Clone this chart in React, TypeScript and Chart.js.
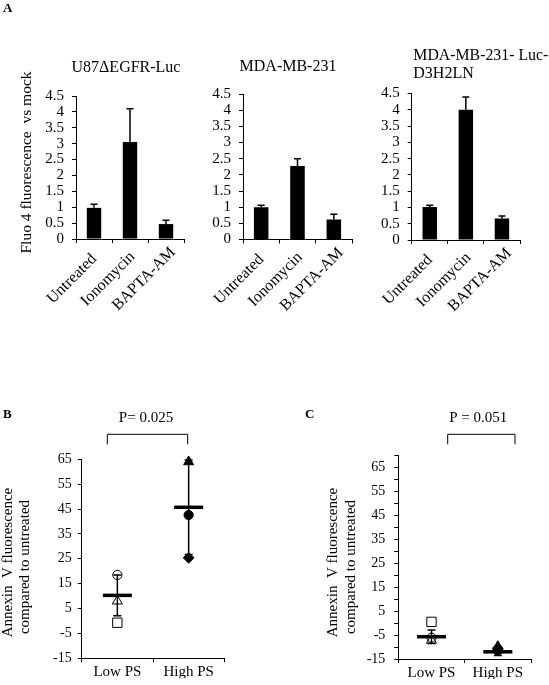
import React, { useEffect, useRef } from 'react';
import { Chart, registerables } from 'chart.js';
Chart.register(...registerables);

// ---------- data ----------
const treatments = ['Untreated', 'Ionomycin', 'BAPTA-AM'];
const u87Values = [0.98, 3.05, 0.47];
const u87Errors = [0.11, 1.05, 0.12];
const mdaValues = [1.0, 2.27, 0.62];
const mdaErrors = [0.06, 0.23, 0.16];
const d3h2lnValues = [1.01, 4.0, 0.66];
const d3h2lnErrors = [0.06, 0.39, 0.08];
const fluoTicks = [0, 0.5, 1, 1.5, 2, 2.5, 3, 3.5, 4, 4.5];

const psGroups = ['Low PS', 'High PS'];
// replicates: circle, triangle, square (low) / diamond (high)
const bCircle = [18.5, 42.6];
const bTriangle = [8.0, 64.0];
const bSquareDiamond = [-0.7, 25.4];
const bMeans = [10.3, 45.7];
const bSD = [8.2, 19.0];
const bTicks = [-15, -5, 5, 15, 25, 35, 45, 55, 65];

const cCircle = [-6.1, -11.5];
const cTriangle = [-7.2, -9.8];
const cSquareDiamond = [0.5, -10.5];
const cMeans = [-5.7, -12.0];
const cSD = [2.8, 1.5];
const cTickMarks = [-15, -10, -5, 0, 5, 10, 15, 20, 25, 30, 35, 40, 45, 50, 55, 60, 65, 70];
const cTickLabels = [-15, -5, 5, 15, 25, 35, 45, 55, 65];

// ---------- helpers ----------
const W = 549;
const H = 685;
const FONT = "'Liberation Serif', 'Times New Roman', serif";

type TextItem = {
  text: string; x: number; y: number; size: number; bold?: boolean;
  align?: CanvasTextAlign; baseline?: CanvasTextBaseline; rotate?: boolean; maxWidth?: number;
};
type Seg = [number, number, number, number];

function overlayPlugin(texts: TextItem[], segs: Seg[]) {
  return {
    id: 'overlay',
    afterDraw(chart: any) {
      const ctx = chart.ctx as CanvasRenderingContext2D;
      ctx.save();
      ctx.fillStyle = '#000';
      ctx.strokeStyle = '#000';
      ctx.lineWidth = 1;
      for (const t of texts) {
        ctx.save();
        ctx.font = `${t.bold ? 'bold ' : ''}${t.size}px ${FONT}`;
        ctx.textAlign = t.align || 'center';
        ctx.textBaseline = t.baseline || 'alphabetic';
        ctx.translate(t.x, t.y);
        if (t.rotate) ctx.rotate(-Math.PI / 2);
        if (t.maxWidth) ctx.fillText(t.text, 0, 0, t.maxWidth);
        else ctx.fillText(t.text, 0, 0);
        ctx.restore();
      }
      for (const s of segs) {
        ctx.beginPath();
        ctx.moveTo(s[0], s[1]);
        ctx.lineTo(s[2], s[3]);
        ctx.stroke();
      }
      ctx.restore();
    },
  };
}

// rotated category labels, centred a little left of and below each category
const slantedLabelsPlugin = {
  id: 'slantedLabels',
  afterDraw(chart: any) {
    const ctx = chart.ctx as CanvasRenderingContext2D;
    const xs = chart.scales.x;
    const labels: string[] = chart.data.labels;
    ctx.save();
    ctx.fillStyle = '#000';
    ctx.font = `16px ${FONT}`;
    ctx.textAlign = 'center';
    ctx.textBaseline = 'middle';
    labels.forEach((lab, i) => {
      const cx = xs.getPixelForValue(i) - 22;
      const cy = xs.top + 40;
      ctx.save();
      ctx.translate(cx, cy);
      ctx.rotate(-Math.PI / 4);
      ctx.fillText(lab, 0, 0);
      ctx.restore();
    });
    ctx.restore();
  },
};

function barErrorPlugin(values: number[], errors: number[]) {
  return {
    id: 'barErrors',
    afterDatasetsDraw(chart: any) {
      const ctx = chart.ctx as CanvasRenderingContext2D;
      const meta = chart.getDatasetMeta(0);
      const y = chart.scales.y;
      ctx.save();
      ctx.strokeStyle = '#000';
      ctx.lineWidth = 1.5;
      meta.data.forEach((bar: any, i: number) => {
        const x = bar.x;
        const y0 = y.getPixelForValue(values[i]);
        const y1 = y.getPixelForValue(values[i] + errors[i]);
        ctx.beginPath();
        ctx.moveTo(x, y0);
        ctx.lineTo(x, y1);
        ctx.moveTo(x - 3.5, y1);
        ctx.lineTo(x + 3.5, y1);
        ctx.stroke();
      });
      ctx.restore();
    },
  };
}

function sdPlugin(means: number[], sds: number[], meanIndex: number) {
  return {
    id: 'sdBars',
    afterDatasetsDraw(chart: any) {
      const ctx = chart.ctx as CanvasRenderingContext2D;
      const meta = chart.getDatasetMeta(meanIndex);
      const y = chart.scales.y;
      ctx.save();
      ctx.strokeStyle = '#000';
      ctx.lineWidth = 1.5;
      meta.data.forEach((pt: any, i: number) => {
        const x = pt.x;
        const yt = y.getPixelForValue(means[i] + sds[i]);
        const yb = y.getPixelForValue(means[i] - sds[i]);
        ctx.beginPath();
        ctx.moveTo(x, yt);
        ctx.lineTo(x, yb);
        ctx.moveTo(x - 4, yt);
        ctx.lineTo(x + 4, yt);
        ctx.moveTo(x - 4, yb);
        ctx.lineTo(x + 4, yb);
        ctx.stroke();
      });
      ctx.restore();
    },
  };
}

type Area = { left: number; right: number; top: number; bottom: number };
const Y_W = 50;

function barConfig(values: number[], errors: number[], area: Area, texts: TextItem[]) {
  const xh = 90;
  return {
    type: 'bar',
    data: {
      labels: treatments,
      datasets: [{ data: values, backgroundColor: '#000', borderWidth: 0, barPercentage: 0.4, categoryPercentage: 1 }],
    },
    options: {
      responsive: false,
      animation: false,
      events: [],
      layout: { padding: { left: area.left - Y_W, right: W - area.right, top: area.top, bottom: H - area.bottom - xh } },
      plugins: { legend: { display: false }, tooltip: { enabled: false } },
      scales: {
        x: {
          offset: true,
          grid: { display: true, drawOnChartArea: false, drawTicks: true, tickLength: 4, color: '#000', tickColor: '#000', offset: true },
          border: { display: true, color: '#000', width: 1 },
          ticks: { display: false, autoSkip: false },
          afterFit: (s: any) => { s.height = xh; s.paddingLeft = 0; s.paddingRight = 0; },
        },
        y: {
          min: 0,
          max: 4.5,
          afterBuildTicks: (s: any) => { s.ticks = fluoTicks.map((v) => ({ value: v })); },
          grid: { display: true, drawOnChartArea: false, drawTicks: true, tickLength: 4, color: '#000', tickColor: '#000' },
          border: { display: true, color: '#000', width: 1 },
          ticks: {
            color: '#000', font: { family: FONT, size: 15 }, padding: 8, autoSkip: false,
            callback: (v: number) => String(v),
          },
          afterFit: (s: any) => { s.width = Y_W; s.paddingTop = 0; s.paddingBottom = 0; },
        },
      },
    },
    plugins: [barErrorPlugin(values, errors), slantedLabelsPlugin, overlayPlugin(texts, [])],
  };
}

function scatterConfig(
  circle: number[], triangle: number[], sqd: number[], means: number[], sds: number[],
  area: Area, yMin: number, yMax: number, tickVals: number[], labelVals: number[], texts: TextItem[], segs: Seg[], tickPad: number,
) {
  const xh = 20;
  const open = 'rgba(0,0,0,0)';
  const base = { showLine: false, clip: false, pointBorderColor: '#000', pointBorderWidth: 1, pointBackgroundColor: [open, '#000'] };
  return {
    type: 'line',
    data: {
      labels: psGroups,
      datasets: [
        { ...base, data: circle, pointStyle: 'circle', pointRadius: 4.6 },
        { ...base, data: triangle, pointStyle: 'triangle', pointRadius: 5.8 },
        { ...base, data: sqd, pointStyle: ['rect', 'rectRot'], pointRadius: [6.6, 5.4] },
        { showLine: false, clip: false, data: means, pointStyle: 'line', pointRadius: 14.5, pointBorderWidth: 3.5, pointBorderColor: '#000', pointBackgroundColor: '#000' },
      ],
    },
    options: {
      responsive: false,
      animation: false,
      events: [],
      layout: { padding: { left: area.left - Y_W, right: W - area.right, top: area.top, bottom: H - area.bottom - xh } },
      plugins: { legend: { display: false }, tooltip: { enabled: false } },
      scales: {
        x: {
          type: 'category',
          offset: true,
          grid: { display: true, drawOnChartArea: false, drawTicks: true, tickLength: 4, color: '#000', tickColor: '#000', offset: true },
          border: { display: true, color: '#000', width: 1 },
          ticks: { color: '#000', font: { family: FONT, size: 15 }, minRotation: 0, maxRotation: 0, padding: 1, autoSkip: false },
          afterFit: (s: any) => { s.height = xh; s.paddingLeft = 0; s.paddingRight = 0; },
        },
        y: {
          min: yMin,
          max: yMax,
          afterBuildTicks: (s: any) => { s.ticks = tickVals.map((v) => ({ value: v })); },
          grid: { display: true, drawOnChartArea: false, drawTicks: true, tickLength: 4, color: '#000', tickColor: '#000' },
          border: { display: true, color: '#000', width: 1 },
          ticks: {
            color: '#000', font: { family: FONT, size: 14 }, padding: tickPad, autoSkip: false,
            callback: (v: number) => (labelVals.includes(v) ? String(v) : ''),
          },
          afterFit: (s: any) => { s.width = Y_W; s.paddingTop = 0; s.paddingBottom = 0; },
        },
      },
    },
    plugins: [sdPlugin(means, sds, 3), overlayPlugin(texts, segs)],
  };
}

// ---------- configs ----------
const makeA1 = () => barConfig(u87Values, u87Errors, { left: 76, right: 184, top: 96, bottom: 239 }, [
  { text: 'A', x: 3, y: 12, size: 13, bold: true, align: 'left' },
  { text: 'U87ΔEGFR-Luc', x: 126, y: 72, size: 16 },
  { text: 'Fluo 4 fluorescence  vs mock', x: 27, y: 162.5, size: 15.5, rotate: true, baseline: 'middle' },
]);
const makeA2 = () => barConfig(mdaValues, mdaErrors, { left: 243, right: 352, top: 94, bottom: 239.5 }, [
  { text: 'MDA-MB-231', x: 288, y: 71, size: 16 },
]);
const makeA3 = () => barConfig(d3h2lnValues, d3h2lnErrors, { left: 411.7, right: 520, top: 93.5, bottom: 240 }, [
  { text: 'MDA-MB-231- Luc-', x: 413.3, y: 60, size: 16, align: 'left', maxWidth: 135 },
  { text: 'D3H2LN', x: 413.3, y: 78.3, size: 16, align: 'left' },
]);
const makeB = () => scatterConfig(bCircle, bTriangle, bSquareDiamond, bMeans, bSD,
  { left: 81.7, right: 224.3, top: 459.3, bottom: 658.3 }, -15, 65, bTicks, bTicks, [
    { text: 'B', x: 3, y: 418, size: 13, bold: true, align: 'left' },
    { text: 'P= 0.025', x: 146, y: 421.7, size: 15 },
    { text: 'Annexin  V fluorescence', x: 8.3, y: 562.5, size: 15, rotate: true, baseline: 'middle' },
    { text: 'compared to untreated', x: 24.7, y: 567, size: 15, rotate: true, baseline: 'middle' },
  ], [
    [107.3, 434.3, 187.7, 434.3],
    [107.3, 434.3, 107.3, 444.3],
    [187.7, 434.3, 187.7, 444.3],
  ], 6);
const makeC = () => scatterConfig(cCircle, cTriangle, cSquareDiamond, cMeans, cSD,
  { left: 398.3, right: 534.3, top: 455.3, bottom: 659 }, -15, 70, cTickMarks, cTickLabels, [
    { text: 'C', x: 305, y: 418, size: 13, bold: true, align: 'left' },
    { text: 'P = 0.051', x: 478.3, y: 421.7, size: 15 },
    { text: 'Annexin  V fluorescence', x: 333.3, y: 562.5, size: 15, rotate: true, baseline: 'middle' },
    { text: 'compared to untreated', x: 351.5, y: 567, size: 15, rotate: true, baseline: 'middle' },
  ], [
    [447.7, 434.3, 515, 434.3],
    [447.7, 434.3, 447.7, 444.3],
    [515, 434.3, 515, 444.3],
  ], 9);

function ChartCanvas({ make }: { make: () => any }) {
  const ref = useRef<HTMLCanvasElement>(null);
  useEffect(() => {
    const chart = new Chart(ref.current as HTMLCanvasElement, make());
    return () => chart.destroy();
  }, [make]);
  return (
    <canvas
      ref={ref}
      width={W}
      height={H}
      style={{ position: 'absolute', left: 0, top: 0, width: W, height: H }}
    />
  );
}

export default function App() {
  return (
    <div style={{ position: 'fixed', left: 0, top: 0, width: W, height: H, background: '#fff', overflow: 'hidden' }}>
      <ChartCanvas make={makeA1} />
      <ChartCanvas make={makeA2} />
      <ChartCanvas make={makeA3} />
      <ChartCanvas make={makeB} />
      <ChartCanvas make={makeC} />
    </div>
  );
}
